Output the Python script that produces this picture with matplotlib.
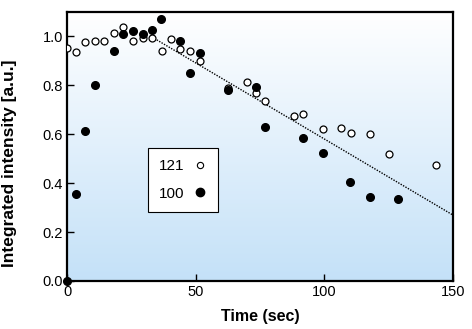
import numpy as np
import matplotlib.pyplot as plt
from matplotlib.colors import LinearSegmentedColormap
from matplotlib.lines import Line2D

plt.rcParams['font.family'] = ['Liberation Sans', 'DejaVu Sans']

# series "121" (open circles)
t_121 = [0.0, 3.5, 7.1, 10.8, 14.5, 18.3, 21.9, 25.7, 29.4, 33.0, 36.8, 40.4, 44.0, 47.8,
         51.6, 62.5, 69.9, 73.5, 77.1, 88.1, 91.7, 99.3, 106.6, 110.3, 117.8, 125.0, 143.5]
i_121 = [0.951, 0.935, 0.977, 0.982, 0.981, 1.014, 1.040, 0.982, 0.993, 0.993, 0.940, 0.990, 0.947, 0.940,
         0.901, 0.788, 0.812, 0.769, 0.735, 0.673, 0.682, 0.620, 0.624, 0.605, 0.601, 0.517, 0.473]

# series "100" (filled circles)
t_100 = [0.0, 3.5, 7.1, 10.8, 18.3, 21.9, 25.7, 29.4, 33.0, 36.7, 44.0, 47.8, 51.6,
         62.5, 73.5, 77.1, 91.7, 99.3, 110.1, 117.8, 128.7]
i_100 = [0.0, 0.354, 0.615, 0.803, 0.941, 1.011, 1.023, 1.009, 1.026, 1.071, 0.980, 0.848, 0.931,
         0.780, 0.791, 0.629, 0.585, 0.525, 0.405, 0.344, 0.336]

# dotted trend line
fit_t = [33.0, 150.0]
fit_i = [0.997, 0.269]

xticks = [0, 50, 100, 150]
yticks = [0.0, 0.2, 0.4, 0.6, 0.8, 1.0]

fig = plt.figure(figsize=(4.72, 3.29), dpi=100)
ax = fig.add_axes([0.142, 0.146, 0.818, 0.818])

# background gradient, white on top to light blue at bottom
cmap = LinearSegmentedColormap.from_list('bg', ['#c4e1f8', '#ffffff'])
grad = np.linspace(0, 1, 256).reshape(-1, 1)
ax.imshow(grad, cmap=cmap, origin='lower', aspect='auto', extent=[0, 1, 0, 1],
          transform=ax.transAxes, zorder=0)

ax.plot(fit_t, fit_i, color='black', ls=(0, (1, 1)), lw=1.0, zorder=2)
ax.plot(t_121, i_121, 'o', ms=5, mfc='white', mec='black', mew=0.9, ls='none', zorder=3)
ax.plot(t_100, i_100, 'o', ms=5.5, mfc='black', mec='black', ls='none', zorder=4, clip_on=False)

ax.set_xlim(0, 150)
ax.set_ylim(0, 1.1)
ax.set_xticks(xticks)
ax.set_yticks(yticks)
ax.set_yticklabels([f'{v:.1f}' for v in yticks])
ax.tick_params(direction='in', length=5, width=1, labelsize=10.5, pad=3)
for s in ax.spines.values():
    s.set_linewidth(1.6)

ax.set_xlabel('Time (sec)', fontsize=11.5, fontweight='bold', labelpad=7)
ax.set_ylabel('Integrated intensity [a.u.]', fontsize=12.5, fontweight='bold')
ax.yaxis.set_label_coords(-0.13, 0.437)

handles = [Line2D([], [], marker='o', ms=4.5, mfc='white', mec='black', mew=0.8, ls='none'),
           Line2D([], [], marker='o', ms=6, mfc='black', mec='black', ls='none')]
leg = ax.legend(handles, ['121', '100'], markerfirst=False, loc='lower left',
                bbox_to_anchor=(0.21, 0.258), borderaxespad=0, fancybox=False, framealpha=1,
                edgecolor='black', fontsize=11, handlelength=1.0, handletextpad=0.5,
                labelspacing=0.9, borderpad=0.7)
leg.get_frame().set_linewidth(0.8)

fig.savefig('out.png', dpi=100)
